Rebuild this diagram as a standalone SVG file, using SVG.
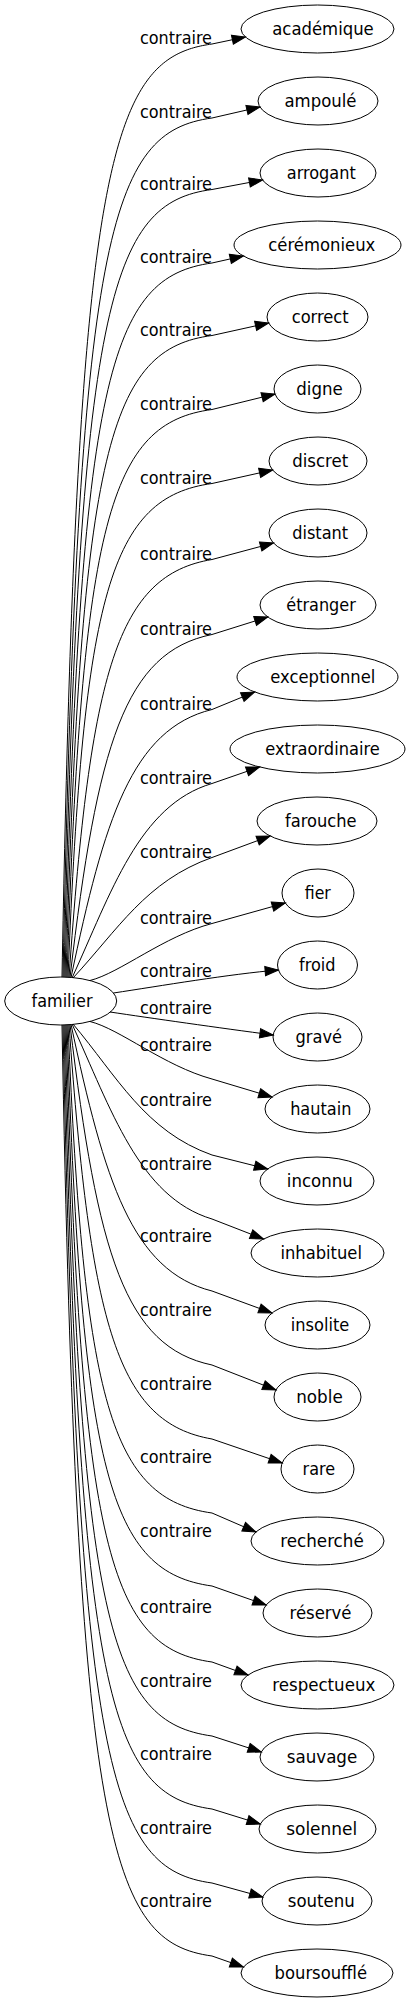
<svg xmlns="http://www.w3.org/2000/svg" width="410" height="2003" viewBox="0 0 410 2003">
<style>
text{font-family:"DejaVu Sans Condensed","DejaVu Sans",sans-serif;font-stretch:condensed;font-size:17.7px;fill:#000;lengthAdjust:spacingAndGlyphs}
.node ellipse{fill:none;stroke:#000;stroke-width:1}
.node text{text-anchor:middle}
.edge path{fill:none;stroke:#000;stroke-width:1;marker-end:url(#arrow)}
</style>
<defs>
<marker id="arrow" markerUnits="userSpaceOnUse" markerWidth="14" markerHeight="10" viewBox="0 0 14 10" refX="13.3" refY="4.67" orient="auto" overflow="visible">
<path d="M0,0 L13.3,4.67 L0,9.33 z" fill="#000" stroke="#000" stroke-width="1"/>
</marker>
</defs>
<rect width="410" height="2003" fill="#fff"/>
<g id="edges">
<g class="edge" id="e0"><path d="M62,977 C77,154 110,58 212,44 L245.4,37"/><text x="140" y="44.2" textLength="72" lengthAdjust="spacingAndGlyphs">contraire</text></g>
<g class="edge" id="e1"><path d="M63,977 C78,228 110,132 212,118 L259.9,107"/><text x="140" y="118.2" textLength="72" lengthAdjust="spacingAndGlyphs">contraire</text></g>
<g class="edge" id="e2"><path d="M64,977 C79,299 110,203 212,189.5 L262.5,180"/><text x="140" y="189.8" textLength="72" lengthAdjust="spacingAndGlyphs">contraire</text></g>
<g class="edge" id="e3"><path d="M65,977 C80,373 110,277 212,263 L243.3,256"/><text x="140" y="263.2" textLength="72" lengthAdjust="spacingAndGlyphs">contraire</text></g>
<g class="edge" id="e4"><path d="M66,977.2 C81,445 110,349 212,335.5 L268.6,323"/><text x="140" y="335.8" textLength="72" lengthAdjust="spacingAndGlyphs">contraire</text></g>
<g class="edge" id="e5"><path d="M67,977.2 C82,519 110,423 212,409.5 L275,394"/><text x="140" y="409.8" textLength="72" lengthAdjust="spacingAndGlyphs">contraire</text></g>
<g class="edge" id="e6"><path d="M68,977.3 C83.5,593 110.6,497.2 212,483.5 L272.6,470"/><text x="140" y="483.8" textLength="72" lengthAdjust="spacingAndGlyphs">contraire</text></g>
<g class="edge" id="e7"><path d="M69,977.5 C90.4,669 117.7,575.1 212,559.5 L273.5,543"/><text x="140" y="559.8" textLength="72" lengthAdjust="spacingAndGlyphs">contraire</text></g>
<g class="edge" id="e8"><path d="M70,977.5 C97.4,744 124.8,652.1 212,634.5 L267.8,617"/><text x="140" y="634.8" textLength="72" lengthAdjust="spacingAndGlyphs">contraire</text></g>
<g class="edge" id="e9"><path d="M71,977.7 C104.3,819 131.9,729.1 212,709.5 L254.6,692"/><text x="140" y="709.8" textLength="72" lengthAdjust="spacingAndGlyphs">contraire</text></g>
<g class="edge" id="e10"><path d="M72,978 C111.1,893 138.9,805 212,783.5 L259.6,767"/><text x="140" y="783.8" textLength="72" lengthAdjust="spacingAndGlyphs">contraire</text></g>
<g class="edge" id="e11"><path d="M73,978 C118,929.6 146,881 212,857.5 L270.1,836"/><text x="140" y="857.5" textLength="72" lengthAdjust="spacingAndGlyphs">contraire</text></g>
<g class="edge" id="e12"><path d="M90,980.5 C120,973 163.8,936.2 212,923.5 L285.3,903"/><text x="140" y="923.8" textLength="72" lengthAdjust="spacingAndGlyphs">contraire</text></g>
<g class="edge" id="e13"><path d="M113.5,993 C160,986 230,974 278.4,970"/><text x="140" y="976.5" textLength="72" lengthAdjust="spacingAndGlyphs">contraire</text></g>
<g class="edge" id="e14"><path d="M110,1012 C150,1018 220,1028 273.2,1035"/><text x="140" y="1013.8" textLength="72" lengthAdjust="spacingAndGlyphs">contraire</text></g>
<g class="edge" id="e15"><path d="M90,1021.5 C120,1029 163.8,1065.8 212,1079 L272,1097"/><text x="140" y="1050.5" textLength="72" lengthAdjust="spacingAndGlyphs">contraire</text></g>
<g class="edge" id="e16"><path d="M73,1024 C117.1,1076.4 145,1131.3 212,1155 L267.6,1169"/><text x="140" y="1105.5" textLength="72" lengthAdjust="spacingAndGlyphs">contraire</text></g>
<g class="edge" id="e17"><path d="M72,1024 C111.1,1109 138.9,1197 212,1219 L263.5,1239"/><text x="140" y="1169.8" textLength="72" lengthAdjust="spacingAndGlyphs">contraire</text></g>
<g class="edge" id="e18"><path d="M71,1024.3 C104.4,1181 132.1,1270.9 212,1291 L272,1313"/><text x="140" y="1241.5" textLength="72" lengthAdjust="spacingAndGlyphs">contraire</text></g>
<g class="edge" id="e19"><path d="M70,1024.5 C97.6,1255 125.1,1346.8 212,1365 L275.9,1390"/><text x="140" y="1315.8" textLength="72" lengthAdjust="spacingAndGlyphs">contraire</text></g>
<g class="edge" id="e20"><path d="M69,1024.5 C90.75,1329 118.1,1422.75 212,1439 L282.2,1463"/><text x="140" y="1389.8" textLength="72" lengthAdjust="spacingAndGlyphs">contraire</text></g>
<g class="edge" id="e21"><path d="M68,1024.7 C84,1403 111.2,1499 212,1513 L255.9,1532"/><text x="140" y="1463.2" textLength="72" lengthAdjust="spacingAndGlyphs">contraire</text></g>
<g class="edge" id="e22"><path d="M67,1024.8 C82,1476 110,1572 212,1586 L266.1,1605"/><text x="140" y="1536.5" textLength="72" lengthAdjust="spacingAndGlyphs">contraire</text></g>
<g class="edge" id="e23"><path d="M66,1024.8 C81,1552 110,1648 212,1662 L248,1675"/><text x="140" y="1612.5" textLength="72" lengthAdjust="spacingAndGlyphs">contraire</text></g>
<g class="edge" id="e24"><path d="M65,1025 C80,1626 110,1722 212,1736 L261.3,1752"/><text x="140" y="1686.5" textLength="72" lengthAdjust="spacingAndGlyphs">contraire</text></g>
<g class="edge" id="e25"><path d="M64,1025 C79,1699 110,1795 212,1809 L260.3,1824"/><text x="140" y="1759.8" textLength="72" lengthAdjust="spacingAndGlyphs">contraire</text></g>
<g class="edge" id="e26"><path d="M63,1025 C78,1773 110,1869 212,1883 L262.8,1897"/><text x="140" y="1833.8" textLength="72" lengthAdjust="spacingAndGlyphs">contraire</text></g>
<g class="edge" id="e27"><path d="M62,1025 C77,1846 110,1942 212,1956 L243.4,1967"/><text x="140" y="1906.5" textLength="72" lengthAdjust="spacingAndGlyphs">contraire</text></g>
</g>
<g class="node" id="familier"><ellipse cx="60.7" cy="1001" rx="56" ry="24"/><text x="62" y="1006.6" textLength="61" lengthAdjust="spacingAndGlyphs">familier</text></g>
<g class="node" id="n0"><ellipse cx="317.5" cy="29" rx="76.5" ry="24"/><text x="323" y="34.6" textLength="101.5" lengthAdjust="spacingAndGlyphs">académique</text></g>
<g class="node" id="n1"><ellipse cx="318" cy="101" rx="60" ry="24"/><text x="320.5" y="106.6" textLength="72" lengthAdjust="spacingAndGlyphs">ampoulé</text></g>
<g class="node" id="n2"><ellipse cx="318" cy="173" rx="58" ry="24"/><text x="321.3" y="178.6" textLength="69" lengthAdjust="spacingAndGlyphs">arrogant</text></g>
<g class="node" id="n3"><ellipse cx="317.5" cy="245" rx="83.5" ry="24"/><text x="321.8" y="250.6" textLength="107" lengthAdjust="spacingAndGlyphs">cérémonieux</text></g>
<g class="node" id="n4"><ellipse cx="317.5" cy="317" rx="50.5" ry="24"/><text x="320.2" y="322.6" textLength="57" lengthAdjust="spacingAndGlyphs">correct</text></g>
<g class="node" id="n5"><ellipse cx="317.5" cy="389" rx="43.5" ry="24"/><text x="319.5" y="394.6" textLength="46.5" lengthAdjust="spacingAndGlyphs">digne</text></g>
<g class="node" id="n6"><ellipse cx="318" cy="461" rx="49" ry="24"/><text x="320.2" y="466.6" textLength="56" lengthAdjust="spacingAndGlyphs">discret</text></g>
<g class="node" id="n7"><ellipse cx="318" cy="533" rx="49" ry="24"/><text x="320.2" y="538.6" textLength="56" lengthAdjust="spacingAndGlyphs">distant</text></g>
<g class="node" id="n8"><ellipse cx="318" cy="605" rx="58" ry="24"/><text x="321" y="610.6" textLength="69.5" lengthAdjust="spacingAndGlyphs">étranger</text></g>
<g class="node" id="n9"><ellipse cx="317.5" cy="677" rx="80.5" ry="24"/><text x="322.8" y="682.6" textLength="105" lengthAdjust="spacingAndGlyphs">exceptionnel</text></g>
<g class="node" id="n10"><ellipse cx="317.5" cy="749" rx="87.5" ry="24"/><text x="322.5" y="754.6" textLength="114.5" lengthAdjust="spacingAndGlyphs">extraordinaire</text></g>
<g class="node" id="n11"><ellipse cx="317" cy="821" rx="60" ry="24"/><text x="320.8" y="826.6" textLength="71.5" lengthAdjust="spacingAndGlyphs">farouche</text></g>
<g class="node" id="n12"><ellipse cx="318" cy="893" rx="36" ry="24"/><text x="317.8" y="898.6" textLength="26" lengthAdjust="spacingAndGlyphs">fier</text></g>
<g class="node" id="n13"><ellipse cx="317.5" cy="965" rx="40" ry="24"/><text x="317.3" y="970.6" textLength="36.5" lengthAdjust="spacingAndGlyphs">froid</text></g>
<g class="node" id="n14"><ellipse cx="317.5" cy="1037" rx="44.5" ry="24"/><text x="318.8" y="1042.6" textLength="46.5" lengthAdjust="spacingAndGlyphs">gravé</text></g>
<g class="node" id="n15"><ellipse cx="317.5" cy="1109" rx="52.5" ry="24"/><text x="320.8" y="1114.6" textLength="61.3" lengthAdjust="spacingAndGlyphs">hautain</text></g>
<g class="node" id="n16"><ellipse cx="317" cy="1181" rx="57" ry="24"/><text x="319.8" y="1186.6" textLength="66" lengthAdjust="spacingAndGlyphs">inconnu</text></g>
<g class="node" id="n17"><ellipse cx="317.5" cy="1253" rx="66.5" ry="24"/><text x="321.2" y="1258.6" textLength="81.5" lengthAdjust="spacingAndGlyphs">inhabituel</text></g>
<g class="node" id="n18"><ellipse cx="317.5" cy="1325" rx="52.5" ry="24"/><text x="320" y="1330.6" textLength="58.5" lengthAdjust="spacingAndGlyphs">insolite</text></g>
<g class="node" id="n19"><ellipse cx="317.5" cy="1397" rx="43.5" ry="24"/><text x="319.5" y="1402.6" textLength="46.5" lengthAdjust="spacingAndGlyphs">noble</text></g>
<g class="node" id="n20"><ellipse cx="317.5" cy="1469" rx="36.5" ry="24"/><text x="318.8" y="1474.6" textLength="32.5" lengthAdjust="spacingAndGlyphs">rare</text></g>
<g class="node" id="n21"><ellipse cx="317.5" cy="1541" rx="66.5" ry="24"/><text x="322" y="1546.6" textLength="83.5" lengthAdjust="spacingAndGlyphs">recherché</text></g>
<g class="node" id="n22"><ellipse cx="317.5" cy="1613" rx="54.5" ry="24"/><text x="320.5" y="1618.6" textLength="62" lengthAdjust="spacingAndGlyphs">réservé</text></g>
<g class="node" id="n23"><ellipse cx="317.5" cy="1685" rx="76.5" ry="24"/><text x="323.8" y="1690.6" textLength="103" lengthAdjust="spacingAndGlyphs">respectueux</text></g>
<g class="node" id="n24"><ellipse cx="317" cy="1757" rx="57" ry="24"/><text x="322" y="1762.6" textLength="70.5" lengthAdjust="spacingAndGlyphs">sauvage</text></g>
<g class="node" id="n25"><ellipse cx="317.5" cy="1829" rx="58.5" ry="24"/><text x="321.7" y="1834.6" textLength="71" lengthAdjust="spacingAndGlyphs">solennel</text></g>
<g class="node" id="n26"><ellipse cx="317" cy="1901" rx="55" ry="24"/><text x="321.3" y="1906.6" textLength="67" lengthAdjust="spacingAndGlyphs">soutenu</text></g>
<g class="node" id="n27"><ellipse cx="317" cy="1973" rx="76" ry="24"/><text x="320.8" y="1978.6" textLength="92.5" lengthAdjust="spacingAndGlyphs">boursoufflé</text></g>
</svg>
